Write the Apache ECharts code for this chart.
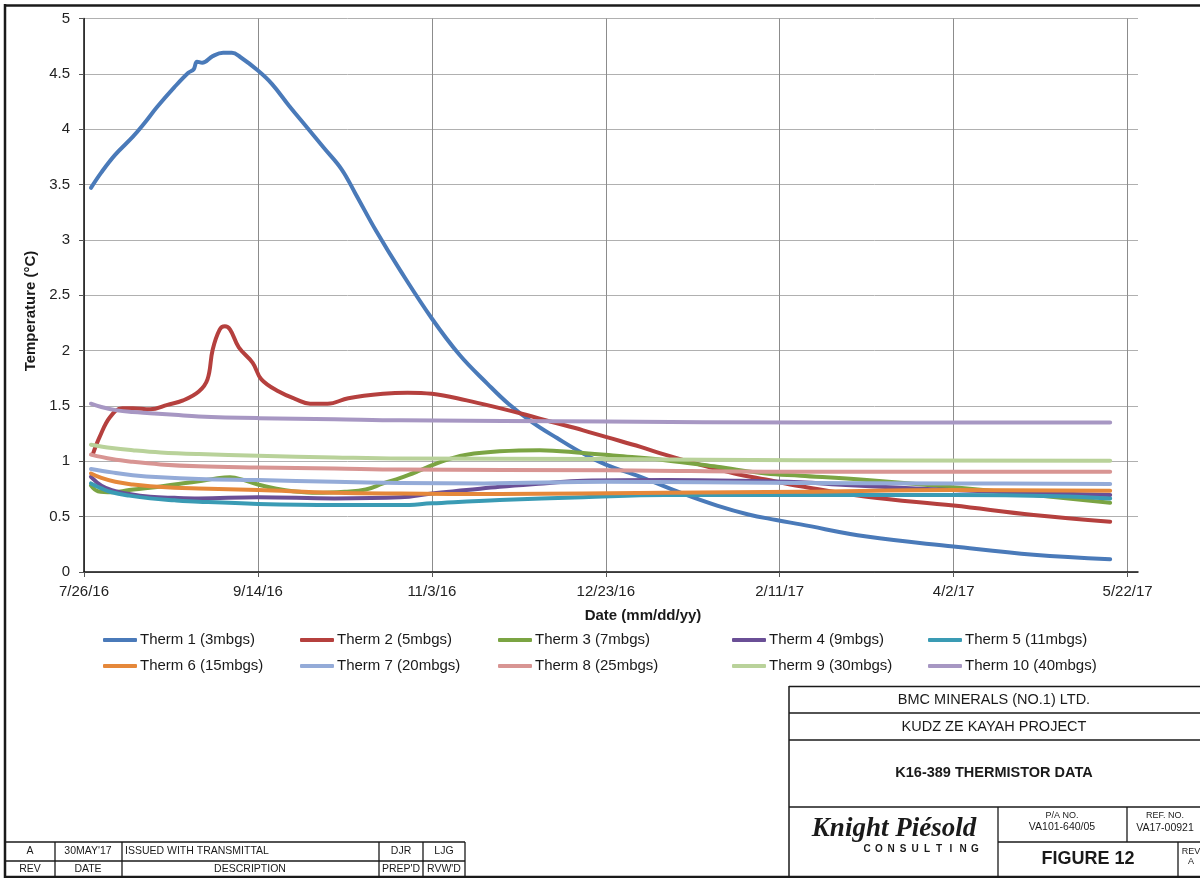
<!DOCTYPE html>
<html>
<head>
<meta charset="utf-8">
<title>K16-389 Thermistor Data</title>
<script src="https://cdn.jsdelivr.net/npm/echarts@6/dist/echarts.min.js"></script>
<style>
  html, body { margin: 0; padding: 0; background: #fff; }
  #chart { width: 1200px; height: 878px; }
</style>
</head>
<body>
<div id="chart"></div>
<script>
// Thermistor readings: [days since 7/26/16, temperature °C]
const therm1 = [[2,3.47],[5,3.61],[9,3.77],[14,3.93],[17,4.04],[21,4.20],[26,4.38],[30,4.51],[31.5,4.54],[32.5,4.61],[34,4.60],[37,4.66],[40,4.69],[42.5,4.69],[45,4.65],[50,4.53],[54,4.41],[59,4.21],[64,4.02],[69,3.83],[74,3.64],[78,3.42],[84,3.08],[91,2.72],[100,2.29],[108,1.96],[116,1.70],[122,1.52],[129,1.35],[136,1.21],[143.5,1.07],[150,0.97],[160,0.86],[172,0.71],[182,0.60],[191,0.52],[199,0.47],[206,0.43],[225,0.32],[250,0.23],[273,0.155],[295,0.115]];
const therm2 = [[2.5,1.06],[4.5,1.22],[7.5,1.40],[11,1.48],[14,1.48],[19,1.47],[24,1.51],[28.5,1.55],[33,1.63],[35.5,1.74],[37,2.01],[39,2.19],[40.5,2.22],[42,2.19],[44.5,2.03],[48.5,1.89],[51,1.74],[56,1.63],[61,1.56],[65,1.52],[70,1.52],[76,1.57],[86,1.61],[93,1.62],[100,1.61],[110,1.55],[119.5,1.48],[127,1.42],[134,1.36],[143.5,1.28],[150,1.22],[160,1.13],[167,1.06],[177,0.97],[187,0.89],[196,0.835],[206,0.775],[225,0.68],[250,0.60],[273,0.515],[295,0.455]];
const therm3 = [[2,0.78],[4,0.73],[8,0.72],[13,0.74],[19,0.76],[26,0.79],[33,0.82],[38,0.845],[42,0.855],[46,0.83],[50,0.79],[55,0.755],[60,0.73],[67,0.715],[75,0.725],[81,0.745],[86,0.80],[91,0.85],[96,0.91],[100.5,0.97],[105,1.02],[110,1.06],[119.5,1.09],[131,1.10],[143.5,1.075],[153,1.05],[167,1.01],[182,0.95],[196,0.89],[206,0.87],[225,0.83],[250,0.765],[273,0.695],[295,0.626]];
const therm4 = [[2,0.86],[5,0.78],[8,0.74],[13,0.705],[19,0.68],[26,0.67],[33,0.665],[50,0.675],[72,0.665],[91,0.675],[100,0.71],[110,0.74],[119.5,0.77],[132,0.80],[143.5,0.825],[167,0.83],[187,0.825],[206,0.81],[219,0.785],[239,0.755],[263,0.725],[295,0.695]];
const therm5 = [[2,0.80],[5,0.755],[8,0.72],[13,0.69],[19,0.665],[26,0.648],[33,0.635],[50,0.615],[72,0.605],[91,0.605],[100,0.62],[119.5,0.65],[143.5,0.675],[167,0.695],[206,0.695],[250,0.695],[280,0.685],[295,0.665]];
const therm6 = [[2,0.89],[5,0.85],[9,0.815],[14,0.79],[19,0.775],[26,0.762],[33,0.755],[50,0.74],[72,0.715],[91,0.708],[119.5,0.705],[167,0.715],[206,0.725],[250,0.74],[295,0.735]];
const therm7 = [[2,0.93],[8,0.90],[14,0.875],[22,0.855],[33,0.84],[50,0.83],[72,0.815],[91,0.805],[115,0.80],[150,0.815],[206,0.805],[250,0.80],[295,0.795]];
const therm8 = [[2,1.06],[8,1.02],[14,0.995],[22,0.972],[33,0.955],[50,0.945],[72,0.935],[91,0.925],[150,0.92],[206,0.905],[295,0.905]];
const therm9 = [[2,1.15],[8,1.12],[14,1.10],[22,1.08],[33,1.065],[50,1.05],[72,1.035],[91,1.025],[150,1.02],[206,1.01],[295,1.005]];
const therm10 = [[2,1.52],[5,1.49],[9.5,1.46],[14,1.445],[19,1.435],[26,1.42],[33,1.405],[50,1.39],[72,1.38],[91,1.37],[150,1.36],[206,1.35],[295,1.35]];

const seriesNames = ['Therm 1 (3mbgs)','Therm 2 (5mbgs)','Therm 3 (7mbgs)','Therm 4 (9mbgs)','Therm 5 (11mbgs)',
                     'Therm 6 (15mbgs)','Therm 7 (20mbgs)','Therm 8 (25mbgs)','Therm 9 (30mbgs)','Therm 10 (40mbgs)'];
const seriesData = [therm1, therm2, therm3, therm4, therm5, therm6, therm7, therm8, therm9, therm10];
const seriesColors = ['#4A7AB9','#B5403E','#7BA443','#6A4F96','#3A9BB4','#E5883A','#94ABD8','#D89593','#B9D29A','#A797C3'];

// Axis ticks: dates every 50 days starting 7/26/16, temperature every 0.5 °C
const xTickDays = [0, 50, 100, 150, 200, 250, 300];
const xMaxDay = 303;
const yMin = 0, yMax = 5, yStep = 0.5;

const baseUTC = Date.UTC(2016, 6, 26);
function dayLabel(v) {
  const d = new Date(baseUTC + Math.round(v) * 86400000);
  return (d.getUTCMonth() + 1) + '/' + d.getUTCDate() + '/' + String(d.getUTCFullYear()).slice(2);
}

const FONT = '"Liberation Sans", Arial, sans-serif';
const NARROW = '"Liberation Sans Narrow", "Liberation Sans", Arial, sans-serif';

// Legend: five columns of two entries each
const legendCols = [103, 300, 498, 732, 928];
const legends = legendCols.map((left, c) => ({
  left: left, top: 632, orient: 'vertical', padding: 0,
  itemWidth: 34, itemHeight: 4, itemGap: 10,
  icon: 'roundRect',
  textStyle: { fontFamily: FONT, fontSize: 15, color: '#1a1a1a', lineHeight: 16, padding: [0, 0, 0, -2] },
  data: [seriesNames[c], seriesNames[c + 5]],
  selectedMode: false
}));

// Drawing-sheet frame, title block and revision table
const LC = '#1a1a1a';
function hline(x1, x2, y, w) { return { type: 'line', silent: true, shape: { x1, y1: y, x2, y2: y }, style: { stroke: LC, lineWidth: w || 1.3 } }; }
function vline(x, y1, y2, w) { return { type: 'line', silent: true, shape: { x1: x, y1, x2: x, y2 }, style: { stroke: LC, lineWidth: w || 1.3 } }; }
function txt(x, y, s, size, opts) {
  opts = opts || {};
  return { type: 'text', silent: true, x, y, style: {
    text: s, fontSize: size, fontFamily: opts.family || FONT, fontWeight: opts.weight || 'normal',
    fontStyle: opts.style || 'normal', fill: opts.color || '#1a1a1a',
    align: opts.align || 'center', verticalAlign: 'middle' } };
}

const graphics = [
  // outer frame
  hline(4, 1200, 5.5, 2.5),
  vline(5, 4, 878, 2.5),
  hline(4, 1200, 877, 2.5),
  // axis titles
  { type: 'text', silent: true, x: 31, y: 311, rotation: Math.PI / 2, style: {
      text: 'Temperature (°C)', fontSize: 15, fontWeight: 'bold', fontFamily: FONT, fill: '#1a1a1a',
      align: 'center', verticalAlign: 'middle' } },
  txt(643, 616, 'Date (mm/dd/yy)', 15, { weight: 'bold' }),
  // title block
  vline(789, 686, 878, 1.5),
  hline(789, 1200, 686.5, 1.5),
  hline(789, 1200, 713, 1.3),
  hline(789, 1200, 740, 1.3),
  hline(789, 1200, 807, 1.3),
  vline(998, 807, 878, 1.3),
  vline(1127, 807, 842, 1.3),
  hline(998, 1200, 842, 1.3),
  vline(1178, 842, 878, 1.3),
  txt(994, 700, 'BMC MINERALS (NO.1) LTD.', 14.5),
  txt(994, 727, 'KUDZ ZE KAYAH PROJECT', 14.5),
  txt(994, 773, 'K16-389 THERMISTOR DATA', 14.5, { weight: 'bold' }),
  txt(894, 829, 'Knight Piésold', 27, { weight: 'bold', style: 'italic', family: '"Liberation Serif", "Times New Roman", serif' }),
  txt(1062, 816, 'P/A NO.', 9, { family: NARROW }),
  txt(1062, 827, 'VA101-640/05', 10.5, { family: NARROW }),
  txt(1165, 816, 'REF. NO.', 9, { family: NARROW }),
  txt(1165, 828, 'VA17-00921', 10.5, { family: NARROW }),
  txt(1088, 859, 'FIGURE 12', 18, { weight: 'bold' }),
  txt(1191, 852, 'REV', 9, { family: NARROW }),
  txt(1191, 862, 'A', 9, { family: NARROW }),
  // revision table
  hline(5, 465, 842, 1.3),
  hline(5, 465, 861, 1.3),
  vline(55, 842, 877, 1.3),
  vline(122, 842, 877, 1.3),
  vline(379, 842, 877, 1.3),
  vline(423, 842, 877, 1.3),
  vline(465, 842, 877, 1.3),
  txt(30, 851, 'A', 10.5, { family: NARROW }),
  txt(88, 851, "30MAY'17", 10.5, { family: NARROW }),
  txt(125, 851, 'ISSUED WITH TRANSMITTAL', 10.5, { family: NARROW, align: 'left' }),
  txt(401, 851, 'DJR', 10.5, { family: NARROW }),
  txt(444, 851, 'LJG', 10.5, { family: NARROW }),
  txt(30, 869, 'REV', 10.5, { family: NARROW }),
  txt(88, 869, 'DATE', 10.5, { family: NARROW }),
  txt(250, 869, 'DESCRIPTION', 10.5, { family: NARROW }),
  txt(401, 869, "PREP'D", 10.5, { family: NARROW }),
  txt(444, 869, "RVW'D", 10.5, { family: NARROW })
];
// spaced "CONSULTING" under the logo
'CONSULTING'.split('').forEach((ch, i) => {
  graphics.push(txt(867 + i * 12, 849, ch, 10, { weight: 'bold' }));
});

const chart = echarts.init(document.getElementById('chart'), null, { renderer: 'canvas' });
chart.setOption({
  animation: false,
  backgroundColor: '#ffffff',
  grid: { left: 84, top: 18.5, right: 62, bottom: 306, containLabel: false },
  xAxis: {
    type: 'value', min: 0, max: xMaxDay,
    axisLine: { show: true, onZero: false, lineStyle: { color: '#111', width: 1.5 } },
    axisTick: { show: true, length: 5, inside: false, customValues: xTickDays, lineStyle: { color: '#555', width: 1 } },
    axisLabel: { customValues: xTickDays, formatter: dayLabel, margin: 12, fontSize: 15, fontFamily: FONT, color: '#222' },
    splitLine: { show: true, lineStyle: { color: '#8c8c8c', width: 1 } }
  },
  yAxis: {
    type: 'value', min: yMin, max: yMax, interval: yStep,
    axisLine: { show: true, lineStyle: { color: '#111', width: 1.5 } },
    axisTick: { show: true, length: 5, lineStyle: { color: '#555' } },
    axisLabel: { margin: 14, fontSize: 15, fontFamily: FONT, color: '#222' },
    splitLine: { show: true, lineStyle: { color: '#b0b0b0', width: 1 } }
  },
  legend: legends,
  series: seriesNames.map((name, i) => ({
    name, type: 'line', data: seriesData[i],
    showSymbol: false, symbol: 'none', smooth: 0.4,
    lineStyle: { color: seriesColors[i], width: 4, cap: 'round', join: 'round' },
    itemStyle: { color: seriesColors[i] },
    silent: true
  })),
  graphic: graphics
});
</script>
</body>
</html>
